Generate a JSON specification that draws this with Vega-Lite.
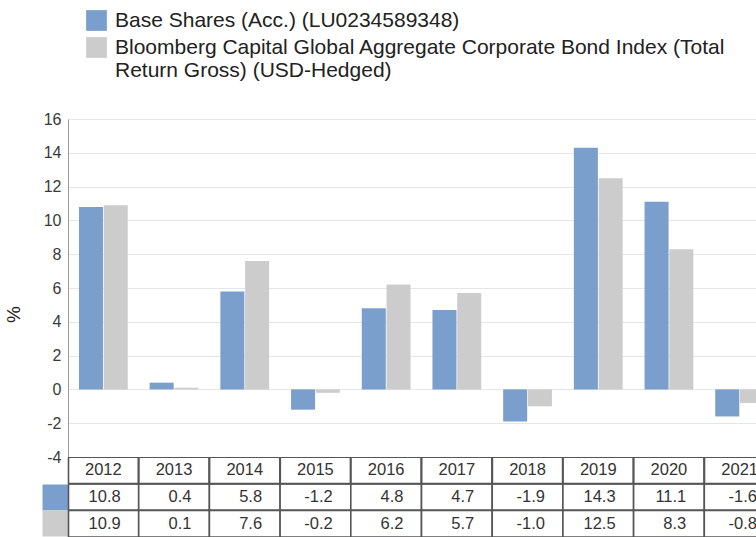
{
  "$schema": "https://vega.github.io/schema/vega-lite/v6.json",
  "padding": {"left": 4, "top": 10, "right": 0, "bottom": 0},
  "background": "white",
  "config": {
    "view": {"stroke": null},
    "font": "Liberation Sans",
    "locale": {"number": {"decimal": ".", "thousands": ",", "grouping": [3], "currency": ["$", ""], "minus": "-"}}
  },
  "data": {"values": [
    {"year": 2012, "series": "Base Shares (Acc.) (LU0234589348)", "value": 10.8},
    {"year": 2012, "series": "Bloomberg Capital Global Aggregate Corporate Bond Index (Total Return Gross) (USD-Hedged)", "value": 10.9},
    {"year": 2013, "series": "Base Shares (Acc.) (LU0234589348)", "value": 0.4},
    {"year": 2013, "series": "Bloomberg Capital Global Aggregate Corporate Bond Index (Total Return Gross) (USD-Hedged)", "value": 0.1},
    {"year": 2014, "series": "Base Shares (Acc.) (LU0234589348)", "value": 5.8},
    {"year": 2014, "series": "Bloomberg Capital Global Aggregate Corporate Bond Index (Total Return Gross) (USD-Hedged)", "value": 7.6},
    {"year": 2015, "series": "Base Shares (Acc.) (LU0234589348)", "value": -1.2},
    {"year": 2015, "series": "Bloomberg Capital Global Aggregate Corporate Bond Index (Total Return Gross) (USD-Hedged)", "value": -0.2},
    {"year": 2016, "series": "Base Shares (Acc.) (LU0234589348)", "value": 4.8},
    {"year": 2016, "series": "Bloomberg Capital Global Aggregate Corporate Bond Index (Total Return Gross) (USD-Hedged)", "value": 6.2},
    {"year": 2017, "series": "Base Shares (Acc.) (LU0234589348)", "value": 4.7},
    {"year": 2017, "series": "Bloomberg Capital Global Aggregate Corporate Bond Index (Total Return Gross) (USD-Hedged)", "value": 5.7},
    {"year": 2018, "series": "Base Shares (Acc.) (LU0234589348)", "value": -1.9},
    {"year": 2018, "series": "Bloomberg Capital Global Aggregate Corporate Bond Index (Total Return Gross) (USD-Hedged)", "value": -1.0},
    {"year": 2019, "series": "Base Shares (Acc.) (LU0234589348)", "value": 14.3},
    {"year": 2019, "series": "Bloomberg Capital Global Aggregate Corporate Bond Index (Total Return Gross) (USD-Hedged)", "value": 12.5},
    {"year": 2020, "series": "Base Shares (Acc.) (LU0234589348)", "value": 11.1},
    {"year": 2020, "series": "Bloomberg Capital Global Aggregate Corporate Bond Index (Total Return Gross) (USD-Hedged)", "value": 8.3},
    {"year": 2021, "series": "Base Shares (Acc.) (LU0234589348)", "value": -1.6},
    {"year": 2021, "series": "Bloomberg Capital Global Aggregate Corporate Bond Index (Total Return Gross) (USD-Hedged)", "value": -0.8}
  ]},
  "spacing": 0,
  "bounds": "flush",
  "resolve": {"scale": {"x": "independent", "y": "independent"}},
  "vconcat": [
    {
      "width": 688,
      "height": 338,
      "mark": {"type": "bar", "clip": true},
      "encoding": {
        "x": {"field": "year", "type": "ordinal", "scale": {"range": [0, 707], "paddingInner": 0.31, "paddingOuter": 0.155}, "axis": null},
        "xOffset": {"field": "series", "type": "nominal", "scale": {"domain": ["Base Shares (Acc.) (LU0234589348)", "Bloomberg Capital Global Aggregate Corporate Bond Index (Total Return Gross) (USD-Hedged)"], "paddingInner": 0.03}},
        "y": {
          "field": "value", "type": "quantitative",
          "scale": {"domain": [-4, 16], "nice": false},
          "axis": {
            "title": "%", "titleFontSize": 19, "titleFontWeight": "normal", "titleColor": "#222",
            "titleX": -55, "titleY": 195, "titleAlign": "center", "titleBaseline": "middle", "titleAngle": -90,
            "labelFontSize": 16, "labelColor": "#3a3a3a", "labelPadding": 7, "ticks": false,
            "domainColor": "#999", "domainWidth": 1, "gridColor": "#e6e6e6",
            "values": [-4, -2, 0, 2, 4, 6, 8, 10, 12, 14, 16]
          }
        },
        "color": {
          "field": "series", "type": "nominal",
          "scale": {"domain": ["Base Shares (Acc.) (LU0234589348)", "Bloomberg Capital Global Aggregate Corporate Bond Index (Total Return Gross) (USD-Hedged)"], "range": ["#7b9fcd", "#cccccc"]},
          "legend": {
            "orient": "none", "legendX": 18, "legendY": -109, "title": null, "direction": "vertical",
            "symbolType": "square", "symbolSize": 430, "symbolStrokeWidth": 0,
            "labelFontSize": 21, "labelColor": "#222", "labelOffset": 8, "rowPadding": 5, "padding": 0, "labelLimit": 700,
            "labelExpr": "indexof(datum.label, 'Bloomberg') === 0 ? ['Bloomberg Capital Global Aggregate Corporate Bond Index (Total', 'Return Gross) (USD-Hedged)'] : datum.label"
          }
        }
      }
    },
    {
      "width": 688,
      "height": 80,
      "layer": [
        {
          "mark": {"type": "rect", "fill": "white", "stroke": "#555", "strokeWidth": 1.6, "clip": true},
          "encoding": {
            "x": {"field": "year", "type": "ordinal", "scale": {"range": [0, 707], "paddingInner": 0, "paddingOuter": 0}, "axis": null},
            "y": {
              "field": "series", "type": "nominal",
              "scale": {"domain": ["Year", "Base Shares (Acc.) (LU0234589348)", "Bloomberg Capital Global Aggregate Corporate Bond Index (Total Return Gross) (USD-Hedged)"], "paddingInner": 0, "paddingOuter": 0},
              "axis": {
                "title": null, "labels": false, "grid": false,
                "values": ["Base Shares (Acc.) (LU0234589348)", "Bloomberg Capital Global Aggregate Corporate Bond Index (Total Return Gross) (USD-Hedged)"],
                "tickSize": 26, "tickWidth": 26,
                "tickColor": {"condition": {"test": "datum.value === 'Base Shares (Acc.) (LU0234589348)'", "value": "#7b9fcd"}, "value": "#cccccc"},
                "domain": true, "domainColor": "#555", "domainWidth": 1.6
              }
            }
          }
        },
        {
          "transform": [{"filter": "datum.series === 'Base Shares (Acc.) (LU0234589348)'"}],
          "mark": {"type": "rect", "fill": "white", "stroke": "#555", "strokeWidth": 2, "clip": true},
          "encoding": {
            "x": {"field": "year", "type": "ordinal"},
            "y": {"datum": "Year"}
          }
        },
        {
          "transform": [{"filter": "datum.series === 'Base Shares (Acc.) (LU0234589348)'"}],
          "mark": {"type": "text", "fontSize": 16.5, "color": "#333", "clip": true},
          "encoding": {
            "x": {"field": "year", "type": "ordinal"},
            "y": {"datum": "Year"},
            "text": {"field": "year", "type": "nominal"}
          }
        },
        {
          "mark": {"type": "text", "fontSize": 16.5, "color": "#333", "align": "right", "dx": -18, "clip": true},
          "encoding": {
            "x": {"field": "year", "type": "ordinal", "bandPosition": 1},
            "y": {"field": "series", "type": "nominal"},
            "text": {"field": "value", "type": "quantitative", "format": ".1f"}
          }
        }
      ]
    }
  ]
}
